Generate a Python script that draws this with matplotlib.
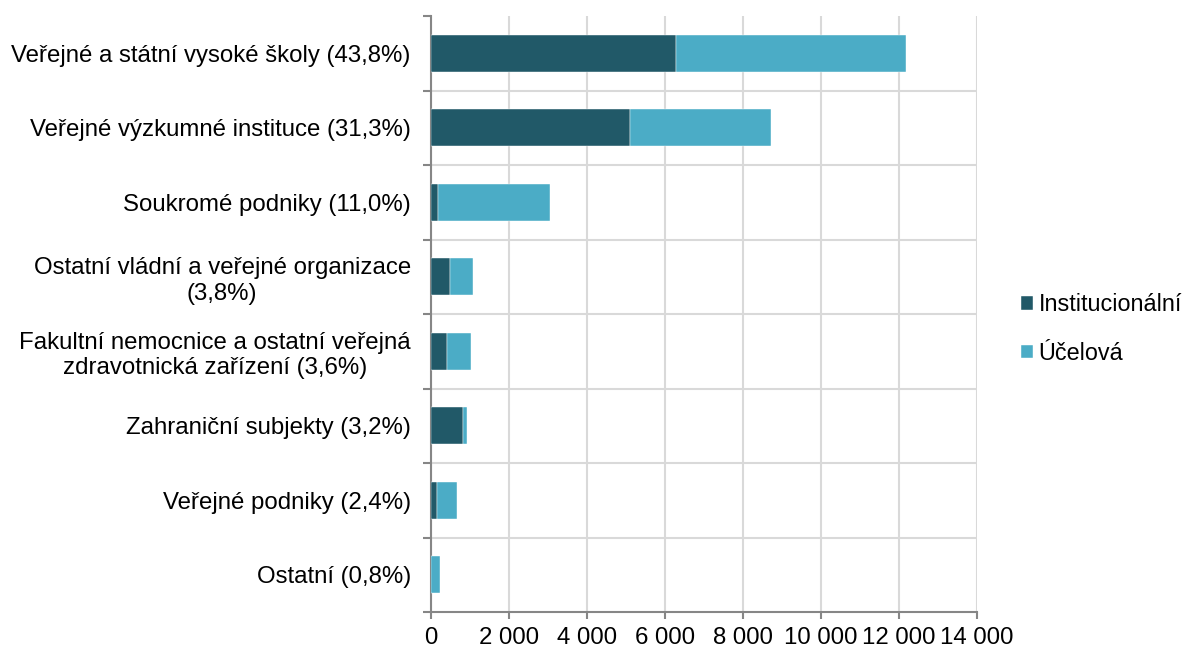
import numpy as np
import matplotlib
matplotlib.use("Agg")
import matplotlib.pyplot as plt

plt.rcParams['font.family'] = ['Liberation Sans', 'DejaVu Sans']

categories = [
    "Veřejné a státní vysoké školy (43,8%)",
    "Veřejné výzkumné instituce (31,3%)",
    "Soukromé podniky (11,0%)",
    "Ostatní vládní a veřejné organizace\n(3,8%)",
    "Fakultní nemocnice a ostatní veřejná\nzdravotnická zařízení (3,6%)",
    "Zahraniční subjekty (3,2%)",
    "Veřejné podniky (2,4%)",
    "Ostatní (0,8%)",
]
institucionalni = [6280, 5110, 190, 490, 400, 820, 150, 0]
ucelova = [5910, 3600, 2870, 580, 620, 95, 525, 230]
series_names = ["Institucionální", "Účelová"]
xticks = [0, 2000, 4000, 6000, 8000, 10000, 12000, 14000]

dark = "#215968"
light = "#4bacc6"
grid_c = "#d9d9d9"
axis_c = "#868686"
fs = 17.3

fig = plt.figure(figsize=(11.9, 6.48), dpi=100)
ax = fig.add_axes([431 / 1190, 1 - 612 / 648, 546 / 1190, 596 / 648])

n = len(categories)
y = np.arange(n)
inst = np.array(institucionalni)
uc = np.array(ucelova)
b1 = ax.barh(y, inst, height=0.5, color=dark, edgecolor="#ffffff", linewidth=0.3, zorder=3)
b2 = ax.barh(y, uc, left=inst, height=0.5, color=light, edgecolor="#ffffff", linewidth=0.3, zorder=3)

ax.set_ylim(n - 0.5, -0.5)
ax.set_xlim(0, 14000)
ax.set_yticks(y)
ax.set_yticklabels(categories, fontsize=fs, multialignment="center", linespacing=1.2)
ax.tick_params(axis="y", which="major", length=0, pad=14.5)
ax.set_yticks(np.arange(-0.5, n, 1.0), minor=True)
ax.tick_params(axis="y", which="minor", length=6, color=axis_c, width=1.5)

ax.set_xticks(xticks)
ax.set_xticklabels([f"{v:,}".replace(",", " ") for v in xticks], fontsize=fs)
ax.tick_params(axis="x", length=5, color=axis_c, width=1.5, pad=6)

ax.grid(axis="x", color=grid_c, linewidth=1.5, zorder=0)
for yy in np.arange(0.5, n - 0.5, 1.0):
    ax.axhline(yy, color=grid_c, linewidth=1.5, zorder=0)

for s in ["top", "right"]:
    ax.spines[s].set_visible(False)
for s in ["left", "bottom"]:
    ax.spines[s].set_color(axis_c)
    ax.spines[s].set_linewidth(1.5)

fig.legend([b1, b2], series_names, loc="center left", bbox_to_anchor=(1021 / 1190, 1 - 329 / 648),
           frameon=False, fontsize=16.8, handlelength=0.5, handleheight=0.5, handletextpad=0.25,
           labelspacing=1.1, borderpad=0, borderaxespad=0)

fig.savefig("out.png", dpi=100)
